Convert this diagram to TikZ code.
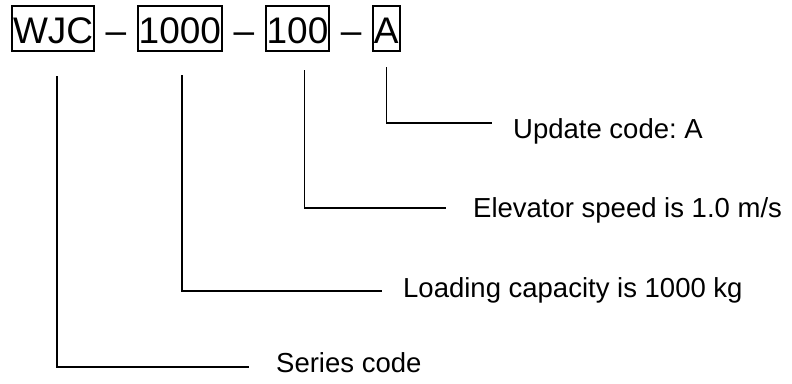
\documentclass[tikz,border=0pt]{standalone}
\usepackage{fontspec}
\setmainfont{Liberation Sans}
\usetikzlibrary{positioning}
\frenchspacing

\begin{document}
\begin{tikzpicture}[x=1pt, y=-1pt,
      code_box/.style ={rectangle, draw=black, line width=2pt,
        font=\fontsize{37}{40}\selectfont, text height=36pt, text depth=7pt,
        inner xsep=1pt, inner ysep=1pt},
      code_dash/.style ={rectangle, draw=none,
        font=\fontsize{37}{40}\selectfont, text height=36pt, text depth=7pt,
        inner xsep=10.3pt, inner ysep=1pt},
      block_label/.style ={rectangle, draw=none, inner sep=0pt,
        font=\fontsize{27.5}{30}\selectfont, anchor=base west},
      line/.style ={draw, line width=1.4pt}]
    \useasboundingbox (0,0) rectangle (792,383);
    %
    % 1. the type code in one row
    \node [code_box, anchor=base west] (wjc) at (11,43) {WJC};
    \node [code_dash, right=0pt of wjc] (dash1) {–};
    \node [code_box, right=0pt of dash1] (cap) {1000};
    \node [code_dash, right=0pt of cap] (dash2) {–};
    \node [code_box, right=0pt of dash2] (spd) {100};
    \node [code_dash, right=0pt of spd] (dash3) {–};
    \node [code_box, right=0pt of dash3] (upd) {A};
    %
    % 2. the meaning of each part
    \node [block_label] (upd_lbl) at (513,138) {Update code: A};
    \node [block_label] (spd_lbl) at (473,217) {Elevator speed is 1.0 m/s};
    \node [block_label] (cap_lbl) at (403,297) {Loading capacity is 1000 kg};
    \node [block_label] (ser_lbl) at (276,372) {Series code};
    %
    % 3. connecting parts with their meaning
    \begin{scope}[every path/.style=line]
      \path ([shift={(0pt,-15pt)}]upd.south) |- ([shift={(-21pt,15pt)}]upd_lbl.base west);
      \path ([shift={(7pt,-18pt)}]spd.south) |- ([shift={(-27pt,9pt)}]spd_lbl.base west);
      \path ([shift={(2pt,-23pt)}]cap.south) |- ([shift={(-21pt,6pt)}]cap_lbl.base west);
      \path ([shift={(4pt,-24pt)}]wjc.south) |- ([shift={(-27pt,5pt)}]ser_lbl.base west);
    \end{scope}
\end{tikzpicture}
\end{document}
